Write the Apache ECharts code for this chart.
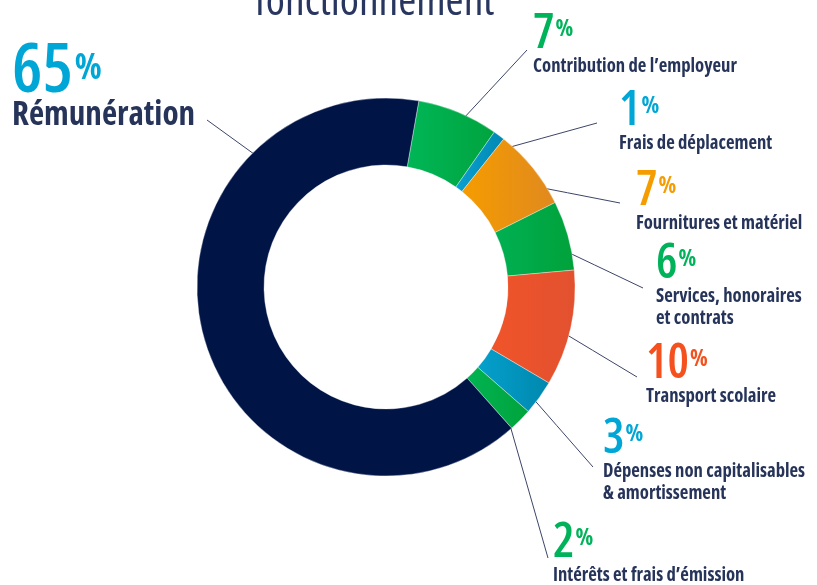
<!DOCTYPE html>
<html>
<head>
<meta charset="utf-8">
<script src="https://cdn.jsdelivr.net/npm/echarts@6/dist/echarts.min.js"></script>
<style>
  html, body { margin: 0; padding: 0; background: #fff; }
  #chart { width: 817px; height: 585px; }
</style>
</head>
<body>
<div id="chart"></div>
<script>
// categories, clockwise from the top
const categories = [
  'Contribution de l’employeur',
  'Frais de déplacement',
  'Fournitures et matériel',
  'Services, honoraires\net contrats',
  'Transport scolaire',
  'Dépenses non capitalisables\n& amortissement',
  'Intérêts et frais d’émission',
  'Rémunération'
];
const shares = [7, 1, 7, 6, 10, 3, 2, 65];

// slice colours (left -> right gradient) and number colours
const sliceColors = [
  ['#00b657', '#00a43e'],
  ['#0aa0d0', '#0088b2'],
  ['#f59c00', '#e0891f'],
  ['#00b053', '#00a23a'],
  ['#f05429', '#e2512f'],
  ['#04a0cc', '#0088ae'],
  ['#00b452', '#00a33c'],
  ['#001446', '#001446']
];
const numColors = ['#00b35a', '#00a6d6', '#f59c00', '#00b35a', '#f4511e', '#00a6d6', '#00b35a', '#00a6d6'];

// top of the big number for each label, its left edge and the leader line end
const labelSpots = [
  { x: 533, top: 14, end: [527, 50] },
  { x: 619, top: 91, end: [597, 123] },
  { x: 636, top: 171, end: [620, 203] },
  { x: 656, top: 244, end: [643, 288] },
  { x: 646, top: 344, end: [637, 377] },
  { x: 603, top: 419, end: [593, 467] },
  { x: 553, top: 523, end: [548, 558] },
  { x: 12, top: 44, end: [207, 120], angle: 132.6, r: 152, big: true }
];

const nameColor = '#27345a';
const center = [386, 287];
const radius = [122, 189];
const startAngle = 80;

// pick installed condensed faces that match the look
const ctx = document.createElement('canvas').getContext('2d');
function widthOf(weight, stretch, size, family, text) {
  ctx.font = [weight, stretch, size + 'px', family].filter(Boolean).join(' ');
  return ctx.measureText(text).width;
}
const candidates = [
  { family: "'Noto Sans ExtraCondensed'", stretch: '' },
  { family: "'Noto Sans Condensed'", stretch: '' },
  { family: "'Noto Sans'", stretch: 'extra-condensed' },
  { family: "'Noto Sans'", stretch: 'condensed' },
  { family: "'Open Sans'", stretch: 'condensed' },
  { family: "'Liberation Sans Narrow'", stretch: '' },
  { family: "'DejaVu Sans Condensed'", stretch: '' }
];
function pick(weight, text, size, target) {
  let face = candidates[candidates.length - 1];
  let best = Infinity;
  candidates.forEach(c => {
    const score = Math.abs(widthOf(weight, c.stretch, size, c.family, text) - target);
    if (score < best) { best = score; face = c; }
  });
  return face;
}
const sample = 'Contribution de l’employeur';
const nameFace = pick('bold', sample, 19, 204);
const numFace = pick('600', '10', 48, 34);
const fam = (f) => f.family + ", 'DejaVu Sans Condensed', sans-serif";
const wt = (f, weight) => [weight, f.stretch].filter(Boolean).join(' ');
function fit(f, weight, text, target, max) {
  const s = 40 * target / widthOf(weight, f.stretch, 40, f.family, text);
  return Math.min(max, Math.round(s * 10) / 10);
}

const nameSize = fit(nameFace, 'bold', sample, 204, 20);
const bnameSize = fit(nameFace, 'bold', 'Rémunération', 183, 41);
const titleSize = fit(numFace, '600', 'fonctionnement', 255, 72);
const numSize = 48, bnumSize = 68;

// line boxes so that digit tops and name baselines land where they should
const L1 = 44, L2 = 22, bL1 = 47, bL2 = 40;
const lift = L1 / 2 - 0.414 * numSize;     // digit top below label top
const blift = bL1 / 2 - 0.414 * bnumSize;

const chart = echarts.init(document.getElementById('chart'));

const total = shares.reduce((a, b) => a + b, 0);
function midAngle(i) {
  let before = 0;
  for (let k = 0; k < i; k++) before += shares[k];
  return startAngle - (before + shares[i] / 2) / total * 360;
}

const richStyles = {
  num: { fontFamily: fam(numFace), fontSize: numSize, lineHeight: L1, fontWeight: wt(numFace, '600') },
  pct: { fontFamily: fam(numFace), fontSize: 23, lineHeight: 39, verticalAlign: 'top', padding: [6, 0, 0, 1], fontWeight: wt(numFace, 'bold') },
  name: { fontFamily: fam(nameFace), fontSize: nameSize, lineHeight: L2, fontWeight: wt(nameFace, 'bold'), color: nameColor },
  bnum: { fontFamily: fam(numFace), fontSize: bnumSize, lineHeight: bL1, fontWeight: wt(numFace, '600') },
  bpct: { fontFamily: fam(numFace), fontSize: 35, height: 40, lineHeight: 27, verticalAlign: 'top', padding: [0, 0, 0, 2], fontWeight: wt(numFace, 'bold') },
  bname: { fontFamily: fam(nameFace), fontSize: bnameSize, lineHeight: bL2, fontWeight: wt(nameFace, 'bold'), color: nameColor }
};

const pieData = categories.map((name, i) => {
  const big = labelSpots[i].big;
  const lines = name.split('\n').map(l => `{${big ? 'bname' : 'name'}|${l}}`).join('\n');
  const rich = JSON.parse(JSON.stringify(richStyles));
  rich.num.color = rich.pct.color = rich.bnum.color = rich.bpct.color = numColors[i];
  return {
    name: name,
    value: shares[i],
    itemStyle: {
      color: new echarts.graphic.LinearGradient(0, 0, 1, 0, [
        { offset: 0, color: sliceColors[i][0] },
        { offset: 1, color: sliceColors[i][1] }
      ])
    },
    label: {
      formatter: big
        ? `{bnum|${shares[i]}}{bpct|%}\n${lines}`
        : `{num|${shares[i]}}{pct|%}\n${lines}`,
      rich: rich
    }
  };
});

const option = {
  animation: false,
  title: {
    text: 'fonctionnement',
    left: 255,
    top: 16 - 0.8 * titleSize,
    padding: 0,
    textStyle: {
      fontFamily: fam(numFace), fontSize: titleSize, lineHeight: titleSize,
      fontWeight: wt(numFace, '500'), color: '#283660'
    }
  },
  series: [
    {
      type: 'pie',
      center: center,
      radius: radius,
      startAngle: startAngle,
      clockwise: true,
      avoidLabelOverlap: false,
      data: pieData,
      itemStyle: { borderColor: 'rgba(255,255,255,0.6)', borderWidth: 0.6 },
      label: { show: true, position: 'outside', align: 'left' },
      labelLine: { show: true, lineStyle: { color: '#3b4568', width: 1 } },
      emphasis: { disabled: true },
      labelLayout: function (params) {
        const i = params.dataIndex;
        const spot = labelSpots[i];
        const a = (spot.angle != null ? spot.angle : midAngle(i)) * Math.PI / 180;
        const r = spot.r || 166;
        const start = [center[0] + r * Math.cos(a), center[1] - r * Math.sin(a)];
        const mid = [(start[0] + spot.end[0]) / 2, (start[1] + spot.end[1]) / 2];
        return {
          x: spot.x,
          y: spot.top - (spot.big ? blift : lift),
          align: 'left',
          verticalAlign: 'top',
          labelLinePoints: [start, mid, spot.end]
        };
      }
    }
  ]
};

chart.setOption(option);
</script>
</body>
</html>
